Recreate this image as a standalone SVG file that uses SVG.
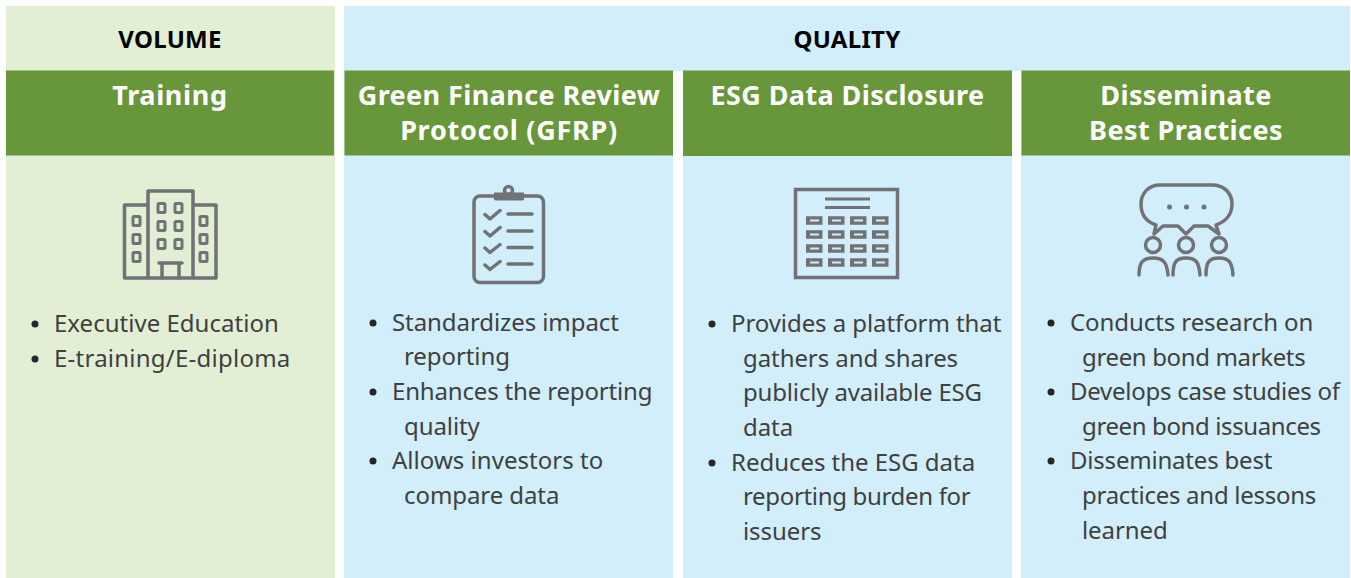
<svg xmlns="http://www.w3.org/2000/svg" width="1351" height="578" viewBox="0 0 1351 578">
<style>
text{font-family:"Noto Sans","Open Sans",sans-serif}
.g{fill:#e2efd5}.b{fill:#d2eefb}.h{fill:#68963a}
.t{font-size:24px;font-weight:700;fill:#000;text-anchor:middle;letter-spacing:.3px}
.s{font-size:27px;font-weight:700;fill:#fff;text-anchor:middle;letter-spacing:.4px}
.l{font-size:24px;fill:#404040;letter-spacing:-.08px}
.d{fill:#262626}
.i{fill:none;stroke:#707276;stroke-width:3.500;stroke-linecap:round;stroke-linejoin:round}
.f{fill:#707276;stroke:none}
</style>
<defs><circle id="bu" r="3.500" class="d"/></defs>
<rect width="1351" height="578" fill="#fff"/>
<g id="volume">
<rect class="g" x="6" y="6" width="329" height="572"/>
<text class="t" x="170" y="47.500">VOLUME</text>
<rect class="h" x="6" y="70.500" width="328" height="85"/>
<text class="s" x="170" y="105" style="letter-spacing:.65px">Training</text>
<g class="i"><path d="M124.500 278V205H148M216 278V205H193M148 278V191H193V278M124.500 278H216"/>
<path d="M159 263H182M162 264V278M179 264V278" />
<g stroke-width="3"><rect x="133" y="216.500" width="7" height="9" rx="1"/><rect x="133" y="234.500" width="7" height="9" rx="1"/><rect x="133" y="252.500" width="7" height="9" rx="1"/>
<rect x="158" y="203.500" width="7" height="9" rx="1"/><rect x="175" y="203.500" width="7" height="9" rx="1"/><rect x="158" y="221.500" width="7" height="9" rx="1"/><rect x="175" y="221.500" width="7" height="9" rx="1"/><rect x="158" y="239.500" width="7" height="9" rx="1"/><rect x="175" y="239.500" width="7" height="9" rx="1"/>
<rect x="200" y="216.500" width="7" height="9" rx="1"/><rect x="200" y="234.500" width="7" height="9" rx="1"/><rect x="200" y="252.500" width="7" height="9" rx="1"/></g></g>
<use href="#bu" x="35" y="324"/><use href="#bu" x="35" y="359"/>
<text class="l"><tspan x="54" y="332" style="letter-spacing:.02px">Executive Education</tspan><tspan x="54" y="367" style="letter-spacing:.24px">E-training/E-diploma</tspan></text>
</g>
<g id="quality">
<rect class="b" x="344" y="6" width="1006" height="65"/>
<text class="t" x="847" y="47.500">QUALITY</text>
</g>
<g id="gfrp">
<rect class="b" x="344" y="70" width="329" height="508"/>
<rect class="h" x="344.500" y="70.500" width="328.500" height="85"/>
<text class="s" x="509" y="105">Green Finance Review</text>
<text class="s" x="509" y="140" style="letter-spacing:.73px">Protocol (GFRP)</text>
<g class="i"><rect x="474" y="196" width="69.500" height="86.500" rx="6"/>
<path d="M485 214.500L490 219L500 210.500M485 231.500L490 236L500 227.500M485 248L490 252.500L500 244.500M485 265L490 269.500L500 261.500M508 214H532M508 231H532M508 247.500H532M508 264H532"/>
<path class="f" d="M494 192.500H524V199.500Q524 200.500 522 200.500H496Q494 200.500 494 199.500Z"/><circle cx="508.500" cy="190.500" r="4"/></g>
<use href="#bu" x="373" y="323"/><use href="#bu" x="373" y="392"/><use href="#bu" x="373" y="461"/>
<text class="l"><tspan x="392" y="331">Standardizes impact</tspan><tspan x="404" y="365">reporting</tspan><tspan x="392" y="400" style="letter-spacing:-.17px">Enhances the reporting</tspan><tspan x="404" y="435">quality</tspan><tspan x="392" y="469" style="letter-spacing:.03px">Allows investors to</tspan><tspan x="404" y="504">compare data</tspan></text>
</g>
<g id="esg">
<rect class="b" x="683" y="70" width="329" height="508"/>
<rect class="h" x="683" y="70.500" width="329" height="85.500"/>
<text class="s" x="847.500" y="105">ESG Data Disclosure</text>
<g><rect class="i" style="stroke-linecap:butt;stroke-linejoin:miter" x="795.500" y="189.500" width="102" height="88"/>
<path class="i" style="stroke-linecap:butt;stroke-width:3" d="M825 199H870M825 207.500H870"/>
<path class="i" style="stroke-linecap:butt;stroke-width:8.500" d="M806 220.500H822.500M828 220.500H844.500M850 220.500H866.500M872 220.500H888.500M806 234.500H822.500M828 234.500H844.500M850 234.500H866.500M872 234.500H888.500M806 248.500H822.500M828 248.500H844.500M850 248.500H866.500M872 248.500H888.500M806 262.500H822.500M828 262.500H844.500M850 262.500H866.500M872 262.500H888.500"/>
<path stroke="#d2eefb" stroke-width="2" fill="none" d="M810 220.500H819M832 220.500H841M854 220.500H863M876 220.500H885M810 234.500H819M832 234.500H841M854 234.500H863M876 234.500H885M810 248.500H819M832 248.500H841M854 248.500H863M876 248.500H885M810 262.500H819M832 262.500H841M854 262.500H863M876 262.500H885"/></g>
<use href="#bu" x="712" y="324"/><use href="#bu" x="712" y="463"/>
<text class="l"><tspan x="731" y="332">Provides a platform that</tspan><tspan x="743" y="367">gathers and shares</tspan><tspan x="743" y="401" style="letter-spacing:-.17px">publicly available ESG</tspan><tspan x="743" y="436">data</tspan><tspan x="731" y="471" style="letter-spacing:-.03px">Reduces the ESG data</tspan><tspan x="743" y="505" style="letter-spacing:-.33px">reporting burden for</tspan><tspan x="743" y="540">issuers</tspan></text>
</g>
<g id="practices">
<rect class="b" x="1021" y="70" width="329" height="508"/>
<rect class="h" x="1021.500" y="70.500" width="328.500" height="85"/>
<text class="s" x="1186" y="105">Disseminate</text>
<text class="s" x="1186" y="140">Best Practices</text>
<g class="i"><path d="M1160 185H1212C1224 185 1232 193 1232 204C1232 215 1225 222 1216 225L1219 234L1208 226H1194L1186 234L1178 226H1163L1154 234L1156 225C1147 222 1141 215 1141 204C1141 193 1149 185 1160 185Z"/>
<circle cx="1153" cy="245" r="7.500"/><circle cx="1186" cy="245" r="7.500"/><circle cx="1219" cy="245" r="7.500"/>
<path d="M1139 275C1139 262 1143 258 1153 258C1163 258 1167 262 1168 275M1173 275C1173 262 1176 258 1186 258C1196 258 1199 262 1200 275M1206 275C1206 262 1209 258 1219 258C1229 258 1232 262 1233 275"/>
<circle class="f" cx="1169.500" cy="207" r="2.500"/><circle class="f" cx="1186.500" cy="207" r="2.500"/><circle class="f" cx="1204" cy="207" r="2.500"/></g>
<use href="#bu" x="1051" y="323"/><use href="#bu" x="1051" y="392"/><use href="#bu" x="1051" y="461"/>
<text class="l"><tspan x="1070" y="331">Conducts research on</tspan><tspan x="1082" y="366" style="letter-spacing:-.36px">green bond markets</tspan><tspan x="1070" y="400" style="letter-spacing:-.25px">Develops case studies of</tspan><tspan x="1082" y="435" style="letter-spacing:-.38px">green bond issuances</tspan><tspan x="1070" y="469" style="letter-spacing:-.2px">Disseminates best</tspan><tspan x="1082" y="504" style="letter-spacing:-.27px">practices and lessons</tspan><tspan x="1082" y="539">learned</tspan></text>
</g>
<g id="connectors"></g>
</svg>
